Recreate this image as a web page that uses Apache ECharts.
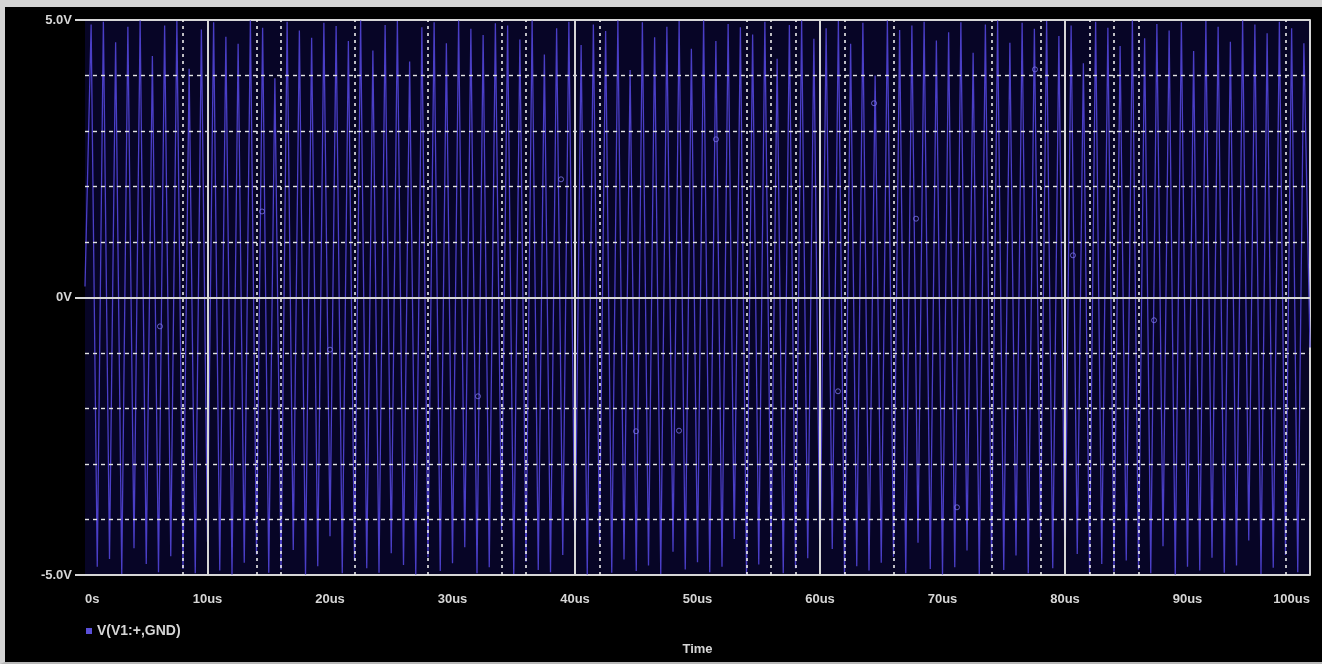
<!DOCTYPE html>
<html>
<head>
<meta charset="utf-8">
<script src="https://cdn.jsdelivr.net/npm/echarts@6/dist/echarts.min.js"></script>
<style>
  html, body { margin: 0; padding: 0; background: #d4d4d4; }
  #frame {
    position: absolute; left: 0; top: 0; width: 1322px; height: 664px;
    box-sizing: border-box; background: #000;
    border-top: 7px solid #d4d4d4; border-left: 5px solid #d4d4d4; border-bottom: 2px solid #b8b8b8;
  }
  #chart { width: 1317px; height: 655px; }
</style>
</head>
<body>
<div id="frame"><div id="chart"></div></div>
<script>
// Transient trace V(V1:+,GND): simulator print step (us) and sampled voltages (V)
const sampleStepUs = 0.5;
const volts = [
  0.20,
  4.92, -4.85, 4.97, -4.71, 4.60, -4.98, 4.88, -4.52, 4.99, -4.80,
  4.35, -4.95, 4.90, -4.66, 4.98, -4.89, 4.12, -4.97, 4.83, -4.40,
  4.96, -4.92, 4.70, -4.99, 4.57, -4.78, 4.99, -4.63, 4.86, -4.96,
  3.95, -4.90, 4.97, -4.55, 4.81, -4.99, 4.68, -4.84, 4.95, -4.30,
  4.89, -4.97, 4.62, -4.73, 4.99, -4.88, 4.45, -4.96, 4.91, -4.61,
  4.98, -4.82, 4.25, -4.99, 4.87, -4.68, 4.96, -4.93, 4.58, -4.79,
  4.99, -4.50, 4.84, -4.97, 4.73, -4.86, 4.94, -4.20, 4.90, -4.98,
  4.65, -4.76, 4.99, -4.91, 4.38, -4.95, 4.85, -4.64, 4.97, -4.87,
  4.55, -4.99, 4.92, -4.45, 4.80, -4.96, 4.99, -4.72, 4.10, -4.93,
  4.96, -4.83, 4.69, -4.98, 4.88, -4.58, 4.98, -4.90, 4.48, -4.77,
  4.99, -4.95, 4.62, -4.85, 4.93, -4.35, 4.87, -4.99, 4.74, -4.81,
  4.97, -4.60, 4.30, -4.97, 4.91, -4.88, 4.99, -4.70, 4.66, -4.94,
  4.85, -4.53, 4.98, -4.99, 4.57, -4.84, 4.95, -4.92, 4.00, -4.78,
  4.99, -4.67, 4.82, -4.97, 4.90, -4.42, 4.97, -4.89, 4.63, -4.99,
  4.78, -4.86, 4.96, -4.56, 4.41, -4.98, 4.92, -4.75, 4.99, -4.91,
  4.59, -4.65, 4.95, -4.97, 4.84, -4.33, 4.98, -4.88, 4.71, -4.96,
  4.90, -4.62, 4.22, -4.99, 4.97, -4.80, 4.86, -4.94, 4.53, -4.74,
  4.99, -4.90, 4.67, -4.97, 4.93, -4.48, 4.81, -4.99, 4.96, -4.85,
  4.44, -4.92, 4.98, -4.69, 4.88, -4.96, 4.61, -4.83, 4.99, -4.38,
  4.92, -4.98, 4.76, -4.87, 4.97, -4.64, 4.85, -4.95, 4.58, -0.90
];
// Trace symbols placed along the waveform
const markerTimes = [6.12, 14.45, 20.0, 32.08, 38.86, 44.98, 48.49, 51.51, 61.47, 64.41, 67.84, 71.18, 77.55, 80.65, 87.27];
const markerVolts = [-0.52, 1.55, -0.94, -1.78, 2.13, -2.41, -2.40, 2.85, -1.69, 3.50, 1.42, -3.78, 4.11, 0.76, -0.41];

// Axis range and grid positions
const xRangeUs = [0, 100];
const yRangeVolts = [-5, 5];
const dottedGridUs = [8, 14, 16, 22, 28, 34, 36, 42, 54, 56, 58, 62, 66, 74, 78, 82, 84, 86, 98];
const solidGridUs = [10, 40, 60, 80];
const dottedGridVolts = [-4, -3, -2, -1, 1, 2, 3, 4];

const traceName = 'V(V1:+,GND)';
const fg = '#d6d6d6';
const font = '"Liberation Sans Narrow", "Liberation Sans", sans-serif';

const traceData = volts.map((v, i) => [i * sampleStepUs, v]);
const markerData = markerTimes.map((t, i) => [t, markerVolts[i]]);

const chart = echarts.init(document.getElementById('chart'), null, { renderer: 'canvas' });
chart.setOption({
  backgroundColor: '#000',
  animation: false,
  grid: {
    left: 80, top: 13, width: 1225, height: 555, show: true,
    backgroundColor: '#070526', borderWidth: 0,
    containLabel: false, outerBoundsMode: 'none'
  },
  legend: {
    left: 76, top: 612, itemWidth: 6, itemHeight: 6, itemGap: 6,
    data: [{ name: traceName, icon: 'rect' }],
    textStyle: { color: fg, fontFamily: font, fontSize: 14, fontWeight: 'bold' },
    selectedMode: false
  },
  xAxis: {
    type: 'value', min: xRangeUs[0], max: xRangeUs[1], interval: 10,
    axisLine: { show: true, lineStyle: { color: fg, width: 2 } },
    axisTick: { show: false },
    splitLine: { show: false },
    axisLabel: {
      color: fg, fontFamily: font, fontSize: 13, fontWeight: 'bold', margin: 18,
      alignMinLabel: 'left', alignMaxLabel: 'right',
      formatter: v => (v === 0 ? '0s' : v + 'us')
    },
    name: 'Time', nameLocation: 'middle', nameGap: 68,
    nameTextStyle: { color: fg, fontFamily: font, fontSize: 13, fontWeight: 'bold' }
  },
  yAxis: [{
    type: 'value', min: yRangeVolts[0], max: yRangeVolts[1], interval: 5,
    axisLine: { show: false },
    axisTick: { show: true, length: 10, lineStyle: { color: fg, width: 2 } },
    splitLine: { show: true, lineStyle: { color: fg, width: 2 } },
    axisLabel: {
      color: fg, fontFamily: font, fontSize: 13, fontWeight: 'bold', margin: 13,
      formatter: v => (v === 0 ? '0V' : v.toFixed(1) + 'V')
    }
  }, {
    type: 'value', position: 'right', min: yRangeVolts[0], max: yRangeVolts[1], interval: 5,
    axisLine: { show: true, lineStyle: { color: fg, width: 2 } },
    axisTick: { show: false }, axisLabel: { show: false }, splitLine: { show: false }
  }],
  series: [
    {
      name: traceName, type: 'line', data: traceData, showSymbol: false,
      lineStyle: { color: '#4a3ec6', width: 1.3 }, itemStyle: { color: '#5a4fd8' },
      z: 2, silent: true
    },
    {
      name: traceName, type: 'scatter', data: markerData, symbol: 'circle', symbolSize: 5,
      itemStyle: { color: 'transparent', borderColor: '#7d74ea', borderWidth: 1 },
      z: 3, silent: true
    },
    {
      name: 'grid', type: 'line', data: [], z: 4, silent: true,
      markLine: {
        silent: true, symbol: 'none', label: { show: false }, animation: false,
        data: [
          ...dottedGridUs.map(x => ({ xAxis: x, lineStyle: { type: [3, 4], color: '#ececec', width: 1.6 } })),
          ...dottedGridVolts.map(y => ({ yAxis: y, lineStyle: { type: [4, 4], color: '#e4e4e4', width: 1.4 } })),
          ...solidGridUs.map(x => ({ xAxis: x, lineStyle: { type: 'solid', color: fg, width: 2 } })),
          { yAxis: 0, lineStyle: { type: 'solid', color: fg, width: 2 } }
        ]
      }
    }
  ]
});
</script>
</body>
</html>
